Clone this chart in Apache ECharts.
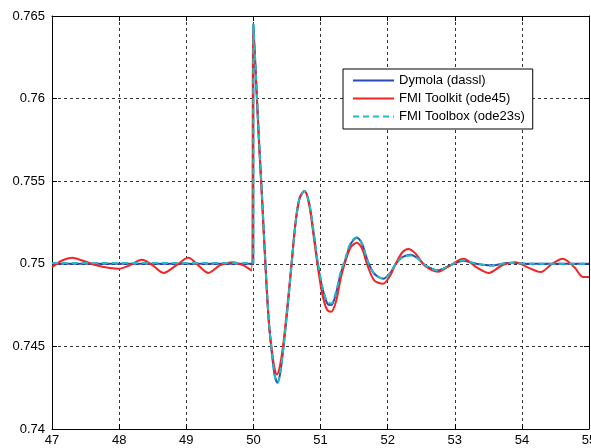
<!DOCTYPE html>
<html>
<head>
<meta charset="utf-8">
<script src="https://cdn.jsdelivr.net/npm/echarts@6/dist/echarts.min.js"></script>
<style>
html,body{margin:0;padding:0;background:#fff;}
#main{width:591px;height:448px;}
</style>
</head>
<body>
<div id="main"></div>
<script>
var xTicks = [47, 48, 49, 50, 51, 52, 53, 54, 55];
var yTicks = [0.74, 0.745, 0.75, 0.755, 0.76, 0.765];

// Dymola (dassl) and FMI Toolbox (ode23s) share the same time points
var tDymola = [47, 49.999, 50.0, 50.04, 50.08, 50.13, 50.18, 50.23, 50.28, 50.32, 50.36, 50.40, 50.45, 50.52, 50.57, 50.63, 50.69, 50.76, 50.83, 50.90, 50.96, 51.03, 51.10, 51.16, 51.23, 51.30, 51.36, 51.45, 51.54, 51.62, 51.70, 51.80, 51.94, 52.05, 52.12, 52.22, 52.34, 52.46, 52.56, 52.75, 52.93, 53.13, 53.32, 53.55, 53.8, 54.2, 55];
var vDymola = [0.75, 0.75, 0.7645, 0.7612, 0.7578, 0.7540, 0.7500, 0.7465, 0.7444, 0.7432, 0.7428, 0.7434, 0.7450, 0.7478, 0.7500, 0.7525, 0.7540, 0.7544, 0.7537, 0.7518, 0.7500, 0.7485, 0.7476, 0.7475, 0.7482, 0.7494, 0.7501, 0.7512, 0.75157, 0.7512, 0.7502, 0.7494, 0.7491, 0.7495, 0.7500, 0.7504, 0.75055, 0.7503, 0.7499, 0.7496, 0.7499, 0.75018, 0.7500, 0.7499, 0.75005, 0.75, 0.75];
var vToolbox = [0.75005, 0.75005, 0.7645, 0.7613, 0.7579, 0.7541, 0.7501, 0.7466, 0.7445, 0.7432, 0.7428, 0.7434, 0.7450, 0.7478, 0.7500, 0.7525, 0.7540, 0.7544, 0.7537, 0.7519, 0.7501, 0.7486, 0.7477, 0.7476, 0.7483, 0.7495, 0.7502, 0.7513, 0.7516, 0.7512, 0.7502, 0.7494, 0.7491, 0.7495, 0.7500, 0.7504, 0.7505, 0.7503, 0.7499, 0.7496, 0.7499, 0.7502, 0.7500, 0.7499, 0.75005, 0.75, 0.75];

var tToolkit = [47.0, 47.15, 47.3, 47.45, 47.67, 48.0, 48.15, 48.34, 48.5, 48.66, 48.85, 49.03, 49.18, 49.33, 49.5, 49.7, 49.85, 49.97, 50.0, 50.04, 50.08, 50.13, 50.18, 50.23, 50.28, 50.32, 50.35, 50.40, 50.45, 50.52, 50.57, 50.63, 50.69, 50.76, 50.83, 50.90, 50.96, 51.03, 51.10, 51.16, 51.23, 51.30, 51.36, 51.45, 51.54, 51.62, 51.70, 51.80, 51.93, 52.04, 52.12, 52.22, 52.31, 52.42, 52.55, 52.75, 52.93, 53.13, 53.32, 53.51, 53.7, 53.9, 54.08, 54.28, 54.45, 54.61, 54.78, 54.91, 55.0];
var vToolkit = [0.7498, 0.7502, 0.75036, 0.7502, 0.7499, 0.7497, 0.7499, 0.75024, 0.7499, 0.74945, 0.7499, 0.75036, 0.7499, 0.74945, 0.7499, 0.7501, 0.7499, 0.7496, 0.7642, 0.7610, 0.7576, 0.7538, 0.7498, 0.7465, 0.7446, 0.7436, 0.7433, 0.7439, 0.7453, 0.7480, 0.7501, 0.7526, 0.7540, 0.7544, 0.7536, 0.7516, 0.7498, 0.7481, 0.7472, 0.7471, 0.7477, 0.7491, 0.7500, 0.7510, 0.75127, 0.7509, 0.7499, 0.7490, 0.74879, 0.7493, 0.7500, 0.7507, 0.7509, 0.7506, 0.7499, 0.74952, 0.7499, 0.7503, 0.7498, 0.74945, 0.7499, 0.7501, 0.7498, 0.7495, 0.7500, 0.7503, 0.7498, 0.7492, 0.7492];

function pairs(t, v){
	var out = [];
	for(var i=0;i<t.length;i++){
		out.push([t[i], v[i]]);
	}
	return out;
}

function initEcharts(elem){
	var myChart = echarts.init(document.getElementById(elem));
	var font = 'Liberation Sans, Arial, sans-serif';
	var gridLine = {show: true, lineStyle: {color: '#333', width: 1, type: [3, 3]}};
	option = {
		animation: false,
		backgroundColor: '#fff',
		grid: {left: 52, right: 2, top: 16, bottom: 19, containLabel: false, outerBoundsMode: 'none'},
		legend: {
			orient: 'vertical',
			left: 343,
			top: 69,
			padding: [5, 8, 6, 9],
			itemWidth: 41,
			itemHeight: 14,
			itemGap: 5,
			backgroundColor: '#fff',
			borderColor: '#000',
			borderWidth: 1,
			borderRadius: 0,
			itemStyle: {opacity: 0},
			textStyle: {color: '#000', fontSize: 13, fontFamily: font},
			data: ['Dymola (dassl)', 'FMI Toolkit (ode45)', 'FMI Toolbox (ode23s)']
		},
		xAxis: [
			{
				type: 'value',
				min: xTicks[0],
				max: xTicks[xTicks.length-1],
				interval: 1,
				axisLine: {show: true, lineStyle: {color: '#000', width: 1}},
				axisTick: {show: true, inside: true, length: 5, lineStyle: {color: '#000'}},
				axisLabel: {color: '#000', fontSize: 13, fontFamily: font, margin: 5, showMaxLabel: true},
				splitLine: gridLine
			},
			{
				type: 'value',
				position: 'top',
				min: xTicks[0],
				max: xTicks[xTicks.length-1],
				interval: 1,
				axisLine: {show: true, lineStyle: {color: '#000', width: 1}},
				axisTick: {show: true, inside: true, length: 5, lineStyle: {color: '#000'}},
				axisLabel: {show: false},
				splitLine: {show: false}
			}
		],
		yAxis: [
			{
				type: 'value',
				min: yTicks[0],
				max: yTicks[yTicks.length-1],
				interval: 0.005,
				axisLine: {show: true, lineStyle: {color: '#000', width: 1}},
				axisTick: {show: true, inside: true, length: 5, lineStyle: {color: '#000'}},
				axisLabel: {
					color: '#000', fontSize: 13, fontFamily: font, margin: 7,
					formatter: function(v){ return String(parseFloat(v.toFixed(3))); }
				},
				splitLine: gridLine
			},
			{
				type: 'value',
				position: 'right',
				min: yTicks[0],
				max: yTicks[yTicks.length-1],
				interval: 0.005,
				axisLine: {show: true, lineStyle: {color: '#000', width: 1}},
				axisTick: {show: true, inside: true, length: 5, lineStyle: {color: '#000'}},
				axisLabel: {show: false},
				splitLine: {show: false}
			}
		],
		series: [
			{
				name: 'Dymola (dassl)',
				type: 'line',
				symbol: 'none',
				smooth: 0.3,
				color: '#2b4bb8',
				lineStyle: {width: 2, color: '#2b4bb8'},
				data: pairs(tDymola, vDymola)
			},
			{
				name: 'FMI Toolkit (ode45)',
				type: 'line',
				symbol: 'none',
				smooth: 0.3,
				color: '#f42424',
				lineStyle: {width: 2, color: '#f42424'},
				data: pairs(tToolkit, vToolkit)
			},
			{
				name: 'FMI Toolbox (ode23s)',
				type: 'line',
				symbol: 'none',
				smooth: 0.3,
				color: '#1fbcc4',
				lineStyle: {width: 2, color: '#1fbcc4', type: [6, 4]},
				data: pairs(tDymola, vToolbox)
			}
		]
	};
	myChart.setOption(option);
}

initEcharts('main');
</script>
</body>
</html>
